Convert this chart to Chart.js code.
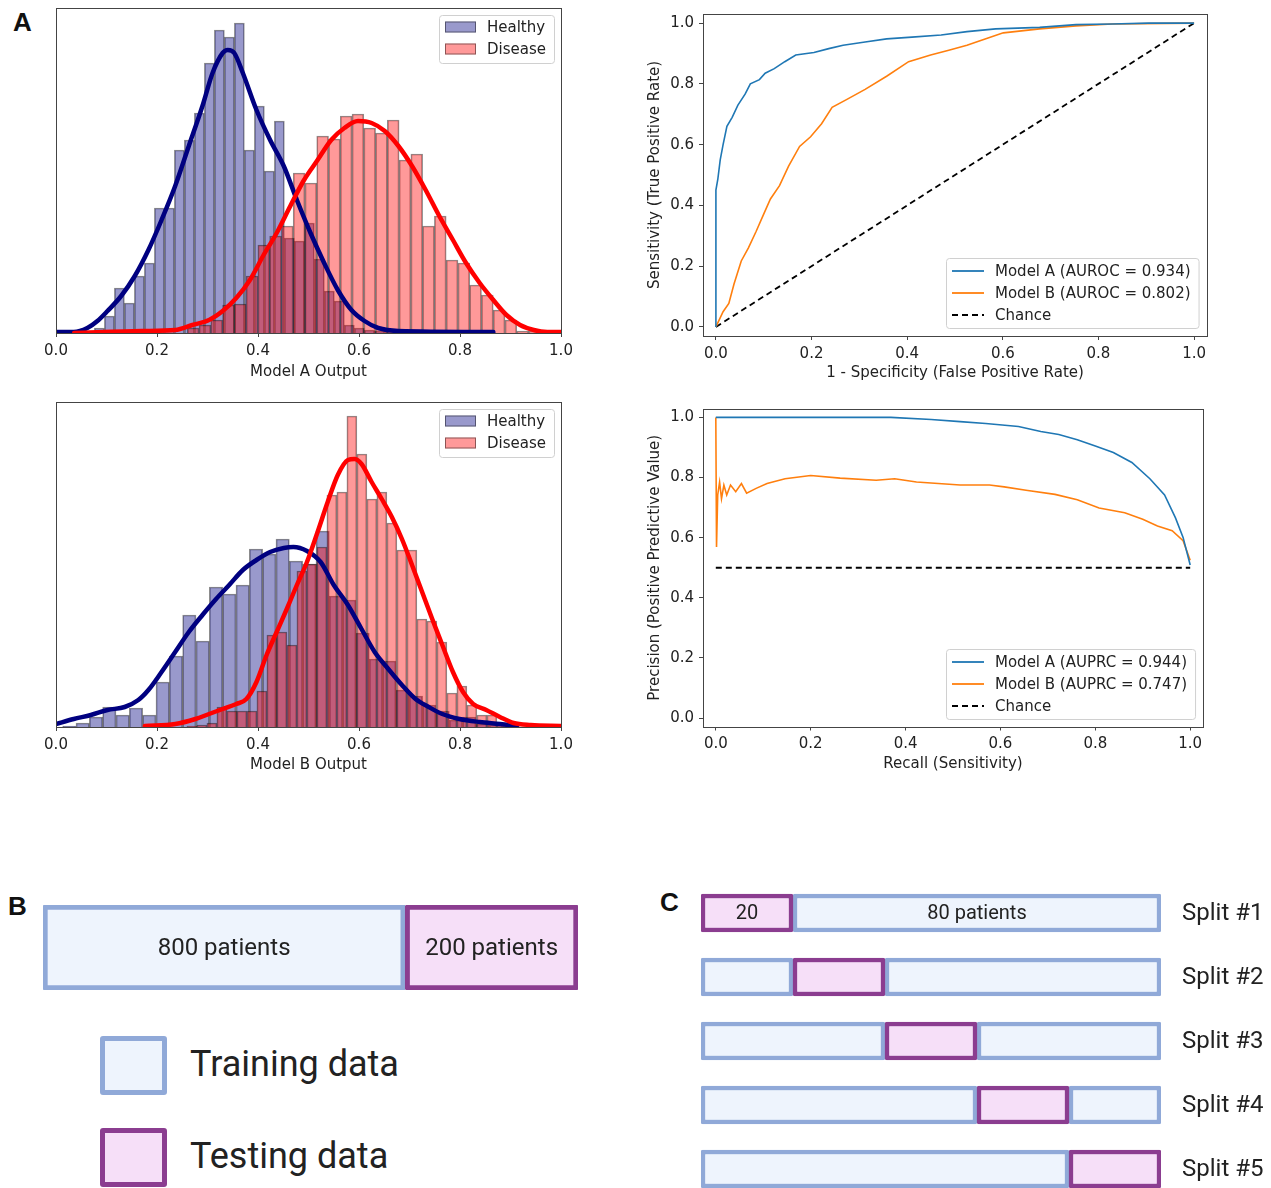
<!DOCTYPE html>
<html>
<head>
<meta charset="utf-8">
<script src="https://cdn.jsdelivr.net/npm/chart.js@4.4.1/dist/chart.umd.min.js"></script>
<style>
html, body { margin: 0; padding: 0; background: #fff; width: 1271px; height: 1188px; overflow: hidden; }
canvas { position: absolute; }
.letter { position: absolute; font: bold 26px "Liberation Sans", Arial, sans-serif; line-height: 26px; color: #111; }
.sq { position: absolute; width: 57px; height: 49px; border: 5px solid; border-radius: 3px; }
.keytxt { position: absolute; font: 36px Roboto, sans-serif; line-height: 36px; color: #222; white-space: nowrap; }
</style>
</head>
<body>
<div class="letter" style="left:13px;top:9px">A</div>
<div class="letter" style="left:8px;top:893px">B</div>
<div class="letter" style="left:660px;top:889px">C</div>

<canvas id="histA" width="600" height="395" style="left:0;top:0"></canvas>
<canvas id="roc" width="631" height="395" style="left:640px;top:0"></canvas>
<canvas id="histB" width="600" height="395" style="left:0;top:395px"></canvas>
<canvas id="pr" width="631" height="395" style="left:640px;top:395px"></canvas>
<canvas id="holdout" width="600" height="130" style="left:0;top:880px"></canvas>
<canvas id="cv" width="591" height="330" style="left:680px;top:875px"></canvas>

<div class="sq" style="left:100px;top:1036px;border-color:#90a9d8;background:#eef4fd"></div>
<div class="keytxt" style="left:190px;top:1046px">Training data</div>
<div class="sq" style="left:100px;top:1128px;border-color:#8b3d90;background:#f6dff8"></div>
<div class="keytxt" style="left:190px;top:1138px">Testing data</div>

<script>
// ---- histogram data (heights in arbitrary units) ----
const xTicks = [0, 0.2, 0.4, 0.6, 0.8, 1.0];

const healthyA_start = 0.076, healthyA_width = 0.0198;
const healthyA_counts = [5, 17, 45, 30, 57, 70, 125, 125, 183, 193, 220, 270, 303, 296, 310, 183, 227, 162, 212,
  95, 92, 110, 74, 42, 32, 8, 5, 3, 2, 1, 1, 0, 1, 0, 0, 1, 0, 0, 0, 1];
const diseaseA_start = 0.260, diseaseA_width = 0.0233;
const diseaseA_counts = [5, 8, 13, 28, 29, 57, 88, 97, 107, 160, 150, 197, 194, 217, 219, 205, 200, 213, 173, 179,
  107, 117, 73, 70, 48, 38, 23, 13, 2, 2];

const healthyB_start = 0.0132, healthyB_width = 0.0264;
const healthyB_counts = [1, 4, 10, 20, 12, 19, 12, 45, 71, 112, 86, 140, 133, 142, 178, 173, 188, 166, 163, 196,
  131, 127, 94, 68, 66, 37, 31, 22, 16, 7, 10, 3, 2, 1];
const diseaseB_start = 0.2592, diseaseB_width = 0.0198;
const diseaseB_counts = [1, 2, 4, 20, 16, 16, 16, 36, 92, 95, 82, 156, 163, 180, 232, 235, 311, 273, 228, 235,
  204, 177, 177, 108, 106, 85, 34, 41, 22, 12, 12, 4, 1];

// kde curves
const kdeHealthyA_x = [0.0, 0.035, 0.062, 0.082, 0.102, 0.129, 0.156, 0.183, 0.209, 0.236, 0.263, 0.290, 0.310, 0.330,
  0.340, 0.353, 0.370, 0.397, 0.424, 0.451, 0.477, 0.504, 0.531, 0.558, 0.585, 0.611, 0.638, 0.678, 0.866];
const kdeHealthyA_y = [1, 1, 5, 12, 22, 37, 57, 83, 113, 147, 187, 227, 260, 280, 283, 280, 260, 223, 193, 167, 133,
  100, 70, 43, 23, 12, 5, 2, 1];
const kdeDiseaseA_x = [0.036, 0.17, 0.236, 0.27, 0.303, 0.33, 0.357, 0.384, 0.41, 0.437, 0.464, 0.49, 0.518, 0.545,
  0.571, 0.598, 0.625, 0.651, 0.678, 0.705, 0.732, 0.759, 0.786, 0.812, 0.839, 0.866, 0.892, 0.919, 0.946, 0.973, 1.0];
const kdeDiseaseA_y = [0, 2, 3, 8, 13, 22, 35, 53, 77, 100, 127, 152, 173, 193, 205, 212, 210, 202, 187, 167, 143, 117,
  93, 70, 50, 33, 18, 8, 3, 1, 1];

const kdeHealthyB_x = [0.0, 0.035, 0.069, 0.102, 0.136, 0.163, 0.183, 0.209, 0.236, 0.263, 0.290, 0.317, 0.343, 0.370,
  0.397, 0.424, 0.451, 0.470, 0.497, 0.524, 0.550, 0.578, 0.605, 0.631, 0.658, 0.685, 0.712, 0.738, 0.765, 0.799,
  0.839, 0.879, 0.913];
const kdeHealthyB_y = [3, 8, 12, 17, 20, 27, 37, 55, 75, 95, 112, 128, 142, 157, 167, 175, 179, 180, 176, 165, 142, 122,
  98, 75, 58, 42, 28, 20, 13, 8, 5, 3, 1];
const kdeDiseaseB_x = [0.176, 0.236, 0.276, 0.303, 0.33, 0.357, 0.377, 0.397, 0.417, 0.437, 0.457, 0.477, 0.497, 0.518,
  0.538, 0.558, 0.578, 0.591, 0.605, 0.625, 0.645, 0.665, 0.685, 0.705, 0.725, 0.745, 0.765, 0.786, 0.806, 0.826,
  0.852, 0.879, 0.906, 0.94, 1.0];
const kdeDiseaseB_y = [1, 3, 8, 13, 18, 23, 28, 45, 72, 95, 118, 142, 165, 195, 225, 252, 267, 268, 263, 245, 228, 210,
  188, 162, 135, 108, 82, 55, 35, 23, 17, 10, 4, 2, 1];

const histLabels = ['Healthy', 'Disease'];

// ---- ROC / PR curves ----
const rocA_fpr = [0, 0, 0.004, 0.009, 0.015, 0.023, 0.034, 0.046, 0.061, 0.072, 0.091, 0.103, 0.122, 0.144, 0.167,
  0.205, 0.236, 0.266, 0.312, 0.357, 0.41, 0.471, 0.525, 0.585, 0.677, 0.753, 0.829, 0.905, 1.0];
const rocA_tpr = [0, 0.45, 0.486, 0.55, 0.60, 0.66, 0.69, 0.73, 0.766, 0.80, 0.814, 0.835, 0.85, 0.873, 0.895,
  0.903, 0.916, 0.927, 0.938, 0.948, 0.954, 0.961, 0.972, 0.981, 0.986, 0.995, 0.997, 1.0, 1.0];
const rocB_fpr = [0, 0.015, 0.027, 0.038, 0.053, 0.068, 0.084, 0.099, 0.114, 0.133, 0.152, 0.175, 0.198, 0.221, 0.243,
  0.274, 0.312, 0.357, 0.403, 0.449, 0.487, 0.525, 0.563, 0.601, 0.677, 0.753, 0.829, 1.0];
const rocB_tpr = [0, 0.05, 0.077, 0.142, 0.217, 0.26, 0.314, 0.368, 0.421, 0.465, 0.529, 0.594, 0.626, 0.669, 0.723,
  0.749, 0.782, 0.825, 0.873, 0.895, 0.911, 0.927, 0.948, 0.968, 0.981, 0.991, 0.997, 1.0];
const rocChance_x = [0, 1], rocChance_y = [0, 1];
const rocLabels = ['Model A (AUROC = 0.934)', 'Model B (AUROC = 0.802)', 'Chance'];

const prA_rec = [0, 0.369, 0.454, 0.515, 0.569, 0.638, 0.685, 0.723, 0.762, 0.80, 0.838, 0.877, 0.915, 0.946, 0.969,
  0.985, 0.992, 1.0];
const prA_prec = [1, 1, 0.993, 0.986, 0.98, 0.97, 0.953, 0.943, 0.926, 0.905, 0.883, 0.85, 0.796, 0.742, 0.666,
  0.601, 0.558, 0.509];
const prB_rec = [0, 0.0015, 0.004, 0.008, 0.012, 0.017, 0.023, 0.031, 0.042, 0.054, 0.065, 0.085, 0.108, 0.146, 0.2,
  0.262, 0.338, 0.377, 0.423, 0.469, 0.515, 0.577, 0.608, 0.654, 0.715, 0.762, 0.808, 0.862, 0.9, 0.931, 0.962, 0.985, 1.0];
const prB_prec = [1, 0.569, 0.742, 0.785, 0.73, 0.775, 0.742, 0.775, 0.753, 0.78, 0.748, 0.764, 0.78, 0.796, 0.807,
  0.798, 0.791, 0.796, 0.785, 0.78, 0.775, 0.775, 0.769, 0.758, 0.744, 0.726, 0.699, 0.683, 0.661, 0.639, 0.623, 0.59, 0.525];
const prChance_x = [0, 1], prChance_y = [0.5, 0.5];
const prLabels = ['Model A (AUPRC = 0.944)', 'Model B (AUPRC = 0.747)', 'Chance'];

// ---- data splits ----
// the sketch is not to scale: block lengths are read as share of the bar width
const holdoutDrawn = [67.7, 32.3];
const holdoutLabels = ['800 patients', '200 patients'];
const cvRows = ['Split #1', 'Split #2', 'Split #3', 'Split #4', 'Split #5'];
const cvTestStart = [0, 20, 40, 60, 80];
const cvFold = 20;
const cvRow1Labels = ['20', '80 patients'];

// ---------------------------------------------------------------
const MPL = { family: 'DejaVu Sans', size: 15 };
const TXT = '#222';
const AX = '#444';
const HEALTHY = 'rgba(0,0,128,0.4)', DISEASE = 'rgba(255,0,0,0.4)', EDGE = 'rgba(0,0,0,0.45)';
const BLUE = '#1f77b4', ORANGE = '#ff7f0e';
const TRAIN_EDGE = '#90a9d8', TRAIN_FILL = '#eef4fd', TEST_EDGE = '#8b3d90', TEST_FILL = '#f6dff8';

const pts = (xs, ys) => xs.map((x, i) => ({ x, y: ys[i] }));
const bins = (start, w, counts) => counts.map((c, i) => ({ x: start + (i + 0.5) * w, y: c }));

const frame = {
  id: 'frame',
  afterDraw(chart) {
    const { ctx, chartArea: a } = chart;
    ctx.save();
    ctx.strokeStyle = AX;
    ctx.lineWidth = 1;
    ctx.strokeRect(Math.round(a.left) + 0.5, Math.round(a.top) + 0.5,
      Math.round(a.right - a.left), Math.round(a.bottom - a.top));
    ctx.restore();
  }
};

// matplotlib style legend box
function mplLegend(cfg) {
  return {
    id: 'mplLegend',
    afterDraw(chart) {
      const { ctx, chartArea: a } = chart;
      ctx.save();
      ctx.font = '15px "DejaVu Sans"';
      const tw = Math.max(...cfg.items.map(it => ctx.measureText(it.label).width));
      const w = cfg.textX + tw + 8;
      const h = cfg.h;
      const x = Math.round(a.right - cfg.inset - w);
      const y = Math.round(cfg.top ? a.top + cfg.inset : a.bottom - cfg.inset - h);
      ctx.beginPath();
      ctx.roundRect(x + 0.5, y + 0.5, w, h, 3);
      ctx.fillStyle = 'rgba(255,255,255,0.85)';
      ctx.fill();
      ctx.strokeStyle = '#d0d0d0';
      ctx.lineWidth = 1;
      ctx.stroke();
      cfg.items.forEach((it, i) => {
        const cy = y + cfg.first + i * cfg.rowH;
        if (it.kind === 'patch') {
          ctx.fillStyle = it.fill;
          ctx.fillRect(x + 6, cy - 5.5, 31, 11);
          ctx.strokeStyle = EDGE;
          ctx.strokeRect(x + 6.5, cy - 5, 30, 10);
        } else {
          ctx.beginPath();
          ctx.setLineDash(it.dash || []);
          ctx.strokeStyle = it.color;
          ctx.lineWidth = it.width;
          ctx.moveTo(x + 6, cy);
          ctx.lineTo(x + 38, cy);
          ctx.stroke();
          ctx.setLineDash([]);
        }
        ctx.fillStyle = TXT;
        ctx.textAlign = 'left';
        ctx.textBaseline = 'middle';
        ctx.fillText(it.label, x + cfg.textX, cy + 1);
      });
      ctx.restore();
    }
  };
}

const fixedTicks = s => { s.ticks = xTicks.map(v => ({ value: v })); };

function xAxis(min, max, title, height, titlePad) {
  return {
    type: 'linear', min, max, offset: false,
    afterBuildTicks: fixedTicks,
    afterFit: s => { s.height = height; },
    grid: { offset: false, drawOnChartArea: false, drawTicks: true, tickLength: 4, color: AX },
    border: { display: false },
    ticks: { font: MPL, color: TXT, padding: 5, maxRotation: 0, autoSkip: false, callback: v => v.toFixed(1) },
    title: { display: true, text: title, font: MPL, color: TXT, padding: { top: 0, bottom: titlePad } }
  };
}

function yAxis(min, max, title) {
  return {
    type: 'linear', min, max,
    afterBuildTicks: fixedTicks,
    afterFit: s => { s.width = 63; },
    grid: { drawOnChartArea: false, drawTicks: true, tickLength: 4, color: AX },
    border: { display: false },
    ticks: { font: MPL, color: TXT, padding: 5, callback: v => v.toFixed(1) },
    title: { display: true, text: title, font: MPL, color: TXT, padding: { top: 6, bottom: 0 } }
  };
}

function histChart(id, hStart, hW, hCounts, dStart, dW, dCounts, kH, kD, xTitle, pad, axisH, titlePad) {
  const barStyle = { grouped: false, barPercentage: 1, categoryPercentage: 1, borderWidth: 1, borderColor: EDGE };
  const kdeStyle = { type: 'line', xAxisID: 'x', pointRadius: 0, borderWidth: 4.5, cubicInterpolationMode: 'monotone',
    borderCapStyle: 'round', fill: false, order: 0 };
  new Chart(document.getElementById(id), {
    type: 'bar',
    data: {
      datasets: [
        { ...kdeStyle, label: histLabels[1] + ' KDE', data: kD, borderColor: '#ff0000' },
        { ...kdeStyle, label: histLabels[0] + ' KDE', data: kH, borderColor: '#000080', order: 1 },
        { ...barStyle, label: histLabels[1], data: bins(dStart, dW, dCounts), xAxisID: 'x2', backgroundColor: DISEASE, order: 2 },
        { ...barStyle, label: histLabels[0], data: bins(hStart, hW, hCounts), xAxisID: 'x', backgroundColor: HEALTHY, order: 3 }
      ]
    },
    options: {
      responsive: false, animation: false,
      layout: { padding: pad },
      plugins: { legend: { display: false }, tooltip: { enabled: false } },
      scales: {
        x: xAxis(0, 1, xTitle, axisH, titlePad),
        x2: { type: 'linear', min: 0, max: 1, offset: false, display: false },
        y: { type: 'linear', min: 0, max: 325, display: false }
      }
    },
    plugins: [frame, mplLegend({
      top: true, inset: 7, h: 48, first: 12, rowH: 22, textX: 48,
      items: [
        { kind: 'patch', fill: HEALTHY, label: histLabels[0] },
        { kind: 'patch', fill: DISEASE, label: histLabels[1] }
      ]
    })]
  });
}

histChart('histA', healthyA_start, healthyA_width, healthyA_counts, diseaseA_start, diseaseA_width, diseaseA_counts,
  pts(kdeHealthyA_x, kdeHealthyA_y), pts(kdeDiseaseA_x, kdeDiseaseA_y), 'Model A Output',
  { left: 56, right: 39, top: 8, bottom: 0 }, 62, 14);
histChart('histB', healthyB_start, healthyB_width, healthyB_counts, diseaseB_start, diseaseB_width, diseaseB_counts,
  pts(kdeHealthyB_x, kdeHealthyB_y), pts(kdeDiseaseB_x, kdeDiseaseB_y), 'Model B Output',
  { left: 56, right: 39, top: 7, bottom: 0 }, 63, 16);

function curveChart(id, series, labels, xTitle, yTitle, xr, yr, pad, axisH, titlePad) {
  const line = { pointRadius: 0, fill: false, tension: 0 };
  new Chart(document.getElementById(id), {
    type: 'line',
    data: {
      datasets: [
        { ...line, label: labels[0], data: series[0], borderColor: BLUE, borderWidth: 1.6 },
        { ...line, label: labels[1], data: series[1], borderColor: ORANGE, borderWidth: 1.6 },
        { ...line, label: labels[2], data: series[2], borderColor: '#000', borderWidth: 1.8, borderDash: [6, 4] }
      ]
    },
    options: {
      responsive: false, animation: false,
      layout: { padding: pad },
      plugins: { legend: { display: false }, tooltip: { enabled: false } },
      scales: {
        x: xAxis(xr[0], xr[1], xTitle, axisH, titlePad),
        y: yAxis(yr[0], yr[1], yTitle)
      }
    },
    plugins: [frame, mplLegend({
      top: false, inset: 8, h: 70, first: 13, rowH: 22, textX: 49,
      items: [
        { kind: 'line', color: BLUE, width: 1.8, label: labels[0] },
        { kind: 'line', color: ORANGE, width: 1.8, label: labels[1] },
        { kind: 'line', color: '#000', width: 1.8, dash: [6, 4], label: labels[2] }
      ]
    })]
  });
}

curveChart('roc', [pts(rocA_fpr, rocA_tpr), pts(rocB_fpr, rocB_tpr), pts(rocChance_x, rocChance_y)], rocLabels,
  '1 - Specificity (False Positive Rate)', 'Sensitivity (True Positive Rate)',
  [-0.027, 1.027], [-0.03, 1.03], { left: 0, right: 64, top: 8, bottom: 0 }, 59, 13);
curveChart('pr', [pts(prA_rec, prA_prec), pts(prB_rec, prB_prec), pts(prChance_x, prChance_y)], prLabels,
  'Recall (Sensitivity)', 'Precision (Positive Predictive Value)',
  [-0.027, 1.027], [-0.028, 1.028], { left: 0, right: 68, top: 6.5, bottom: 0 }, 63.5, 17);

// ---- B: hold-out split, C: 5-fold cross validation ----
function barText(items, rowLabels) {
  return {
    id: 'barText',
    afterDatasetsDraw(chart) {
      const { ctx, chartArea: a } = chart;
      ctx.save();
      ctx.fillStyle = TXT;
      ctx.textAlign = 'center';
      ctx.textBaseline = 'middle';
      items.forEach(([ds, idx, text, size]) => {
        const el = chart.getDatasetMeta(ds).data[idx];
        ctx.font = size + 'px Roboto';
        ctx.fillText(text, (el.x + el.base) / 2, el.y + 1);
      });
      if (rowLabels) {
        const ys = chart.scales.y;
        ctx.textAlign = 'left';
        ctx.font = '24px Roboto';
        rowLabels.forEach((t, i) => ctx.fillText(t, a.right + 21, ys.getPixelForValue(i) + 1));
      }
      ctx.restore();
    }
  };
}

const blockStyle = { grouped: false, borderSkipped: false, borderRadius: 2 };

new Chart(document.getElementById('holdout'), {
  type: 'bar',
  data: {
    labels: ['all'],
    datasets: [
      { ...blockStyle, label: 'Testing', data: [[holdoutDrawn[0], holdoutDrawn[0] + holdoutDrawn[1]]],
        backgroundColor: TEST_FILL, borderColor: TEST_EDGE, borderWidth: 5, barThickness: 85 },
      { ...blockStyle, label: 'Training', data: [[0, holdoutDrawn[0]]],
        backgroundColor: TRAIN_FILL, borderColor: TRAIN_EDGE, borderWidth: 5, barThickness: 85 }
    ]
  },
  options: {
    indexAxis: 'y', responsive: false, animation: false,
    layout: { padding: { left: 43, right: 22, top: 25, bottom: 20 } },
    plugins: { legend: { display: false }, tooltip: { enabled: false } },
    scales: {
      x: { type: 'linear', min: 0, max: 100, display: false },
      y: { display: false }
    }
  },
  plugins: [barText([[1, 0, holdoutLabels[0], 24], [0, 0, holdoutLabels[1], 24]])]
});

new Chart(document.getElementById('cv'), {
  type: 'bar',
  data: {
    labels: cvRows,
    datasets: [
      { ...blockStyle, label: 'Testing', data: cvTestStart.map(s => [s, s + cvFold]),
        backgroundColor: TEST_FILL, borderColor: TEST_EDGE, borderWidth: 4.5, barThickness: 38 },
      { ...blockStyle, label: 'Training', data: cvTestStart.map(s => s > 0 ? [0, s] : null),
        backgroundColor: TRAIN_FILL, borderColor: TRAIN_EDGE, borderWidth: 4.5, barThickness: 38 },
      { ...blockStyle, label: 'Training', data: cvTestStart.map(s => s + cvFold < 100 ? [s + cvFold, 100] : null),
        backgroundColor: TRAIN_FILL, borderColor: TRAIN_EDGE, borderWidth: 4.5, barThickness: 38 }
    ]
  },
  options: {
    indexAxis: 'y', responsive: false, animation: false,
    layout: { padding: { left: 21, right: 110, top: 6, bottom: 4 } },
    plugins: { legend: { display: false }, tooltip: { enabled: false } },
    scales: {
      x: { type: 'linear', min: 0, max: 100, display: false },
      y: { display: false }
    }
  },
  plugins: [barText([[0, 0, cvRow1Labels[0], 20], [2, 0, cvRow1Labels[1], 20]], cvRows)]
});
</script>
</body>
</html>
